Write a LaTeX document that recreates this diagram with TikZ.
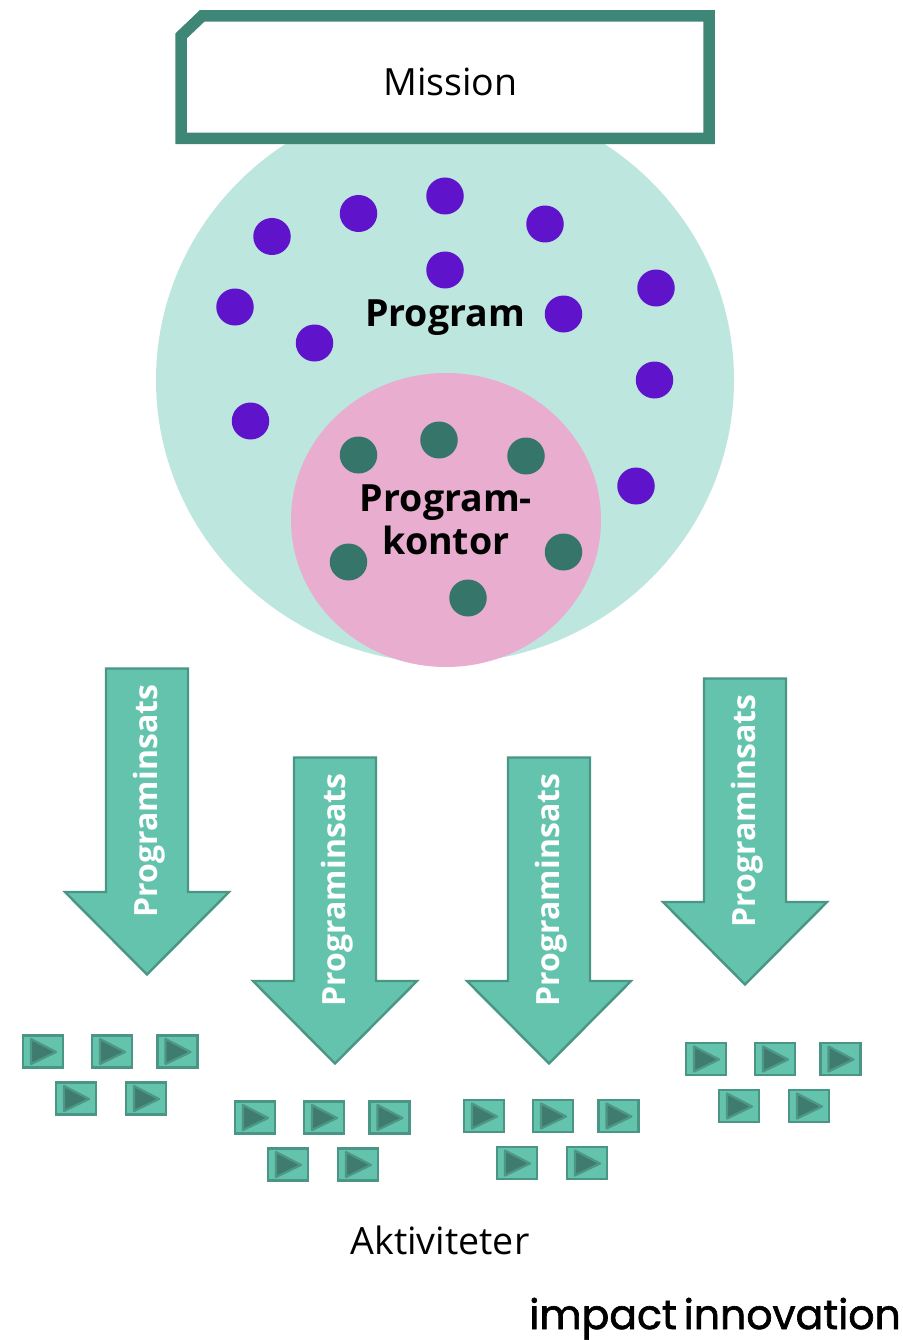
\documentclass[tikz,border=0pt]{standalone}
\usepackage{fontspec}
\setmainfont{Open Sans}
\newfontfamily\logofont[FakeBold=1.6]{Poppins}
\usetikzlibrary{shapes.geometric}
\definecolor{boxgreen}{HTML}{3E8776}
\definecolor{bigcirc}{HTML}{BDE6DE}
\definecolor{pinkc}{HTML}{E9ADD0}
\definecolor{purp}{HTML}{5F14CC}
\definecolor{tealdot}{HTML}{35756A}
\definecolor{arrowfill}{HTML}{64C3AD}
\definecolor{arrowedge}{HTML}{4A9584}
\definecolor{tridark}{HTML}{3F7B6F}
\definecolor{triedge}{HTML}{4E9686}
\tikzset{
  x=1pt,y=-1pt,
  pdot/.style={ellipse,fill=purp,minimum width=37.5pt,minimum height=37pt,inner sep=0pt},
  tdot/.style={ellipse,fill=tealdot,minimum width=37.5pt,minimum height=37pt,inner sep=0pt},
  biglabel/.style={font=\fontsize{37.5}{43}\selectfont\bfseries,align=center},
  bigarrow/.pic={
    \draw[fill=arrowfill,draw=arrowedge,line width=2.4pt,line join=miter]
      (-41,0.5) -- (41,0.5) -- (41,224) -- (82,224) -- (0,306.5) -- (-82,224) -- (-41,224) -- cycle;
    \node[rotate=90,text=white,font=\fontsize{32}{38}\selectfont\bfseries] (-lbl) at (2.5,133) {Programinsats};
  },
  playbtn/.pic={
    \draw[fill=arrowfill,draw=arrowedge,line width=2.2pt] (0,0) rectangle (40,32);
    \draw[fill=tridark,draw=triedge,line width=2.2pt,line join=round] (8,3.5) -- (33,16.5) -- (8,28.5) -- cycle;
  },
  cluster/.pic={
    \pic at (1,0.5) {playbtn};
    \pic at (70,0.5) {playbtn};
    \pic at (135.5,0.5) {playbtn};
    \pic at (34,47.5) {playbtn};
    \pic at (104,47.5) {playbtn};
  }
}
\begin{document}
\begin{tikzpicture}
\useasboundingbox (0,0) rectangle (902,1340);
\fill[bigcirc] (445,380) ellipse [x radius=289,y radius=283];
\draw[boxgreen,line width=11.5pt,fill=white,line join=miter]
  (181,36) -- (202,16) -- (709,16) -- (709,138.5) -- (181,138.5) -- cycle;
\node[font=\fontsize{37.5}{44}\selectfont] (mission) at (450.5,82) {Mission};
\foreach \n/\x/\y in {a/272/236.5,b/358.5/213.5,c/445/196,d/545/224,e/445/270,f/656/288,g/235/307,h/563.5/314,i/314.5/343,j/654.5/380,k/250.5/421,l/636/486}
  \node[pdot] (p\n) at (\x,\y) {};
\node[biglabel] (program) at (445,318) {Program};
\fill[pinkc] (446,520) ellipse [x radius=155,y radius=147];
\foreach \n/\x/\y in {a/358.5/455,b/439/440,c/526/456,d/348.5/562,e/563.5/552,f/468/598}
  \node[tdot] (t\n) at (\x,\y) {};
\node[biglabel] (kontor) at (446,520) {Program-\\kontor};
\pic (a1) at (147,668) {bigarrow};
\pic (a2) at (335,757) {bigarrow};
\pic (a3) at (549,757) {bigarrow};
\pic (a4) at (745,678) {bigarrow};
\pic at (22,1035) {cluster};
\pic at (234,1101) {cluster};
\pic at (463,1099.5) {cluster};
\pic at (685,1042.5) {cluster};
\node[font=\fontsize{37.6}{44}\selectfont] (akt) at (440,1240.5) {Aktiviteter};
\node[font=\logofont\fontsize{41}{46}\selectfont,anchor=base east,inner sep=0pt] (logo) at (901,1329) {impact\hspace{-4pt}\ innovation};
\end{tikzpicture}
\end{document}
